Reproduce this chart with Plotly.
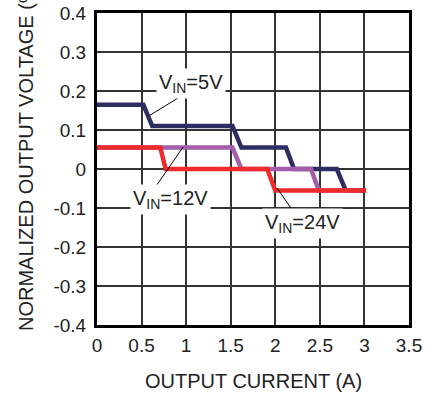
import plotly.graph_objects as go

# Data (output current in A, normalized output voltage in %)
x_5v = [0.0, 0.52, 0.62, 1.52, 1.62, 2.12, 2.21, 2.69, 2.79, 3.0]
y_5v = [0.165, 0.165, 0.11, 0.11, 0.055, 0.055, 0.0, 0.0, -0.055, -0.055]

x_12v = [0.0, 1.52, 1.62, 2.40, 2.49, 2.9]
y_12v = [0.055, 0.055, 0.0, 0.0, -0.055, -0.055]

x_24v = [0.0, 0.71, 0.77, 1.91, 2.0, 3.02]
y_24v = [0.055, 0.055, 0.0, 0.0, -0.055, -0.055]

x_ticks = [0, 0.5, 1, 1.5, 2, 2.5, 3, 3.5]
x_tick_labels = ["0", "0.5", "1", "1.5", "2", "2.5", "3", "3.5"]
y_ticks = [-0.4, -0.3, -0.2, -0.1, 0, 0.1, 0.2, 0.3, 0.4]
y_tick_labels = ["-0.4", "-0.3", "-0.2", "-0.1", "0", "0.1", "0.2", "0.3", "0.4"]

labels = ["V<sub>IN</sub>=5V", "V<sub>IN</sub>=12V", "V<sub>IN</sub>=24V"]
label_pos = [(1.055, 0.218), (0.82, -0.079), (2.30, -0.141)]
leaders = [((0.909, 0.182), (0.595, 0.138)),
           ((0.965, 0.056), (0.617, -0.059)),
           ((2.245, -0.123), (2.02, -0.049))]

NAVY = "#2E2D62"
PURPLE = "#A35DAB"
RED = "#EE2B2B"
FONT = "Liberation Sans, Arial, sans-serif"

fig = go.Figure()
fig.add_trace(go.Scatter(x=x_5v, y=y_5v, mode="lines",
                         line=dict(color=NAVY, width=4.5), showlegend=False))
fig.add_trace(go.Scatter(x=x_12v, y=y_12v, mode="lines",
                         line=dict(color=PURPLE, width=4.5), showlegend=False))
fig.add_trace(go.Scatter(x=x_24v, y=y_24v, mode="lines",
                         line=dict(color=RED, width=4.5), showlegend=False))

for (p0, p1) in leaders:
    fig.add_shape(type="line", x0=p0[0], y0=p0[1], x1=p1[0], y1=p1[1],
                  xref="x", yref="y", line=dict(color="black", width=1))

for txt, (lx, ly) in zip(labels, label_pos):
    fig.add_annotation(x=lx, y=ly, xref="x", yref="y", text=txt, showarrow=False,
                       bgcolor="white", borderpad=2,
                       font=dict(family=FONT, size=20, color="#222"))

fig.add_annotation(x=(26 - 97) / 312, y=(325 - 155) / 312, xref="paper", yref="paper",
                   text="NORMALIZED OUTPUT VOLTAGE (%)", textangle=-90, showarrow=False,
                   xanchor="center", yanchor="middle",
                   font=dict(family=FONT, size=20, color="#222"))
fig.add_annotation(x=0.5, y=(325 - 380.5) / 312, xref="paper", yref="paper",
                   text="OUTPUT CURRENT (A)", showarrow=False,
                   xanchor="center", yanchor="middle",
                   font=dict(family=FONT, size=20, color="#222"))

fig.update_xaxes(range=[0, 3.5], tickvals=x_ticks, ticktext=x_tick_labels,
                 showgrid=True, gridcolor="#333", gridwidth=1.5,
                 showline=True, linecolor="black", linewidth=3, mirror=True,
                 zeroline=False, ticks="", ticklabelstandoff=1, automargin=False,
                 tickfont=dict(family=FONT, size=19, color="#222"))
fig.update_yaxes(range=[-0.4, 0.4], tickvals=y_ticks, ticktext=y_tick_labels,
                 showgrid=True, gridcolor="#333", gridwidth=1.5,
                 showline=True, linecolor="black", linewidth=3, mirror=True,
                 zeroline=False, ticks="", ticklabelstandoff=4, automargin=False,
                 tickfont=dict(family=FONT, size=19, color="#222"))

fig.update_layout(width=428, height=393,
                  margin=dict(l=97, r=19, t=13, b=68),
                  plot_bgcolor="white", paper_bgcolor="white")

fig.write_html("out.html", config={"displayModeBar": False},
               post_script="document.body.style.margin='0';")
